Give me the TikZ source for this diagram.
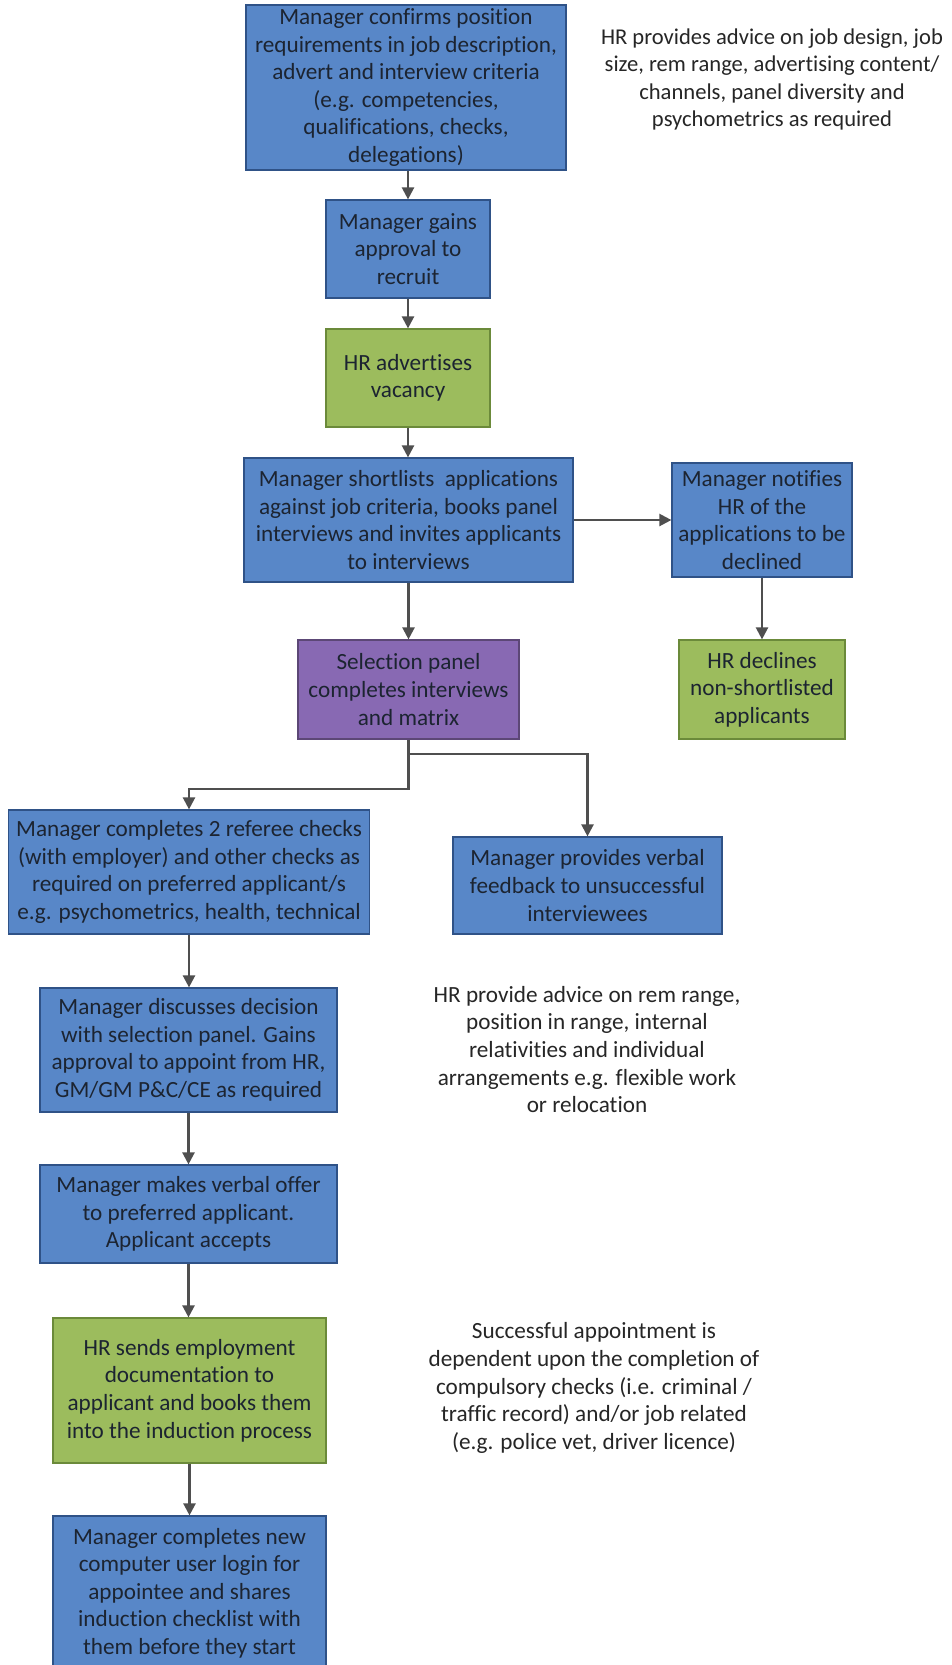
\documentclass[tikz,border=0pt]{standalone}
\usepackage{fontspec}
\setmainfont{Carlito}[Ligatures={NoCommon}]
\usetikzlibrary{arrows.meta,calc}
\definecolor{bluefill}{HTML}{5887C8}
\definecolor{blueline}{HTML}{2F5287}
\definecolor{greenfill}{HTML}{9CBC5D}
\definecolor{greenline}{HTML}{6B8A3A}
\definecolor{purplefill}{HTML}{8869B3}
\definecolor{purpleline}{HTML}{5C4776}
\definecolor{arrowgrey}{HTML}{4F4F4F}
\definecolor{textdark}{HTML}{1C2431}
\begin{document}
\begin{tikzpicture}[x=1pt,y=-1pt,
  box/.style={draw, line width=1.2pt, inner sep=0pt, align=center, text=textdark,
    font=\fontsize{23.2pt}{27.6pt}\selectfont},
  bluebox/.style={box, fill=bluefill, draw=blueline},
  greenbox/.style={box, fill=greenfill, draw=greenline},
  purplebox/.style={box, fill=purplefill, draw=purpleline},
  note/.style={align=center, text=black!85, inner sep=0pt,
    font=\fontsize{23.2pt}{27.6pt}\selectfont},
  arr/.style={draw=arrowgrey, line width=2.3pt, -{Triangle[width=12pt,length=12pt]}}
]
\fill[white] (0,0) rectangle (952,1665);
\useasboundingbox (0,0) rectangle (952,1665);

% main column
\node[bluebox, minimum width=320pt, minimum height=165pt] (b1) at (406,87.5)
  {Manager confirms position\\requirements in job description,\\advert and interview criteria\\(e.g. competencies,\\qualifications, checks,\\delegations)};
\node[bluebox, minimum width=164pt, minimum height=98pt] (b2) at (408,249)
  {Manager gains\\approval to\\recruit};
\node[greenbox, minimum width=164pt, minimum height=98pt] (b3) at (408,378)
  {HR advertises\\vacancy};
\node[bluebox, minimum width=329pt, minimum height=124pt] (b4) at (408.5,520)
  {Manager shortlists\ \ applications\\against job criteria, books panel\\interviews and invites applicants\\to interviews};
\node[bluebox, minimum width=180pt, minimum height=114pt] (b5) at (762,520)
  {Manager notifies\\HR of the\\applications to be\\declined};
\node[purplebox, minimum width=221pt, minimum height=99pt] (b6) at (408.5,689.5)
  {Selection panel\\completes interviews\\and matrix};
\node[greenbox, minimum width=166pt, minimum height=99pt] (b7) at (762,689.5)
  {HR declines\\non-shortlisted\\applicants};
\node[bluebox, minimum width=361pt, minimum height=124pt] (b8) at (189,872)
  {Manager completes 2 referee checks\\(with employer) and other checks as\\required on preferred applicant/s\\e.g. psychometrics, health, technical};
\node[bluebox, minimum width=269pt, minimum height=97pt] (b9) at (587.5,885.5)
  {Manager provides verbal\\feedback to unsuccessful\\interviewees};
\node[bluebox, minimum width=297pt, minimum height=124pt] (b10) at (188.5,1050)
  {Manager discusses decision\\with selection panel. Gains\\approval to appoint from HR,\\GM/GM P\&C/CE as required};
\node[bluebox, minimum width=297pt, minimum height=98pt] (b11) at (188.5,1214)
  {Manager makes verbal offer\\to preferred applicant.\\Applicant accepts};
\node[greenbox, minimum width=273pt, minimum height=145pt] (b12) at (189.5,1390.5)
  {HR sends employment\\documentation to\\applicant and books them\\into the induction process};
\node[bluebox, minimum width=273pt, minimum height=154pt] (b13) at (189.5,1593)
  {Manager completes new\\computer user login for\\appointee and shares\\induction checklist with\\them before they start};

% notes
\node[note, font=\fontsize{22.6pt}{27.6pt}\selectfont] (n1) at (772,79.5)
  {HR provides advice on job design, job\\size, rem range, advertising content/\\channels, panel diversity and\\psychometrics as required};
\node[note] (n2) at (587,1049.5)
  {HR provide advice on rem range,\\position in range, internal\\relativities and individual\\arrangements e.g. flexible work\\or relocation};
\node[note] (n3) at (594,1388)
  {Successful appointment is\\dependent upon the completion of\\compulsory checks (i.e. criminal /\\traffic record) and/or job related\\(e.g. police vet, driver licence)};

% connectors
\coordinate (s1) at (408.5,789);
\coordinate (s2) at (408.5,754);
\draw[arr] (b1.south -| b2.north) -- (b2.north);
\draw[arr] (b2.south) -- (b3.north);
\draw[arr] (b3.south) -- (b4.north -| b3.south);
\draw[arr] (b4.east) -- (b5.west);
\draw[arr] (b5.south) -- (b7.north);
\draw[arr] (b4.south) -- (b6.north);
\draw[arr] (b6.south) -- (s1) -| (b8.north);
\draw[arr] (s2) -| (b9.north);
\draw[arr] (b8.south) -- (b10.north -| b8.south);
\draw[arr] (b10.south) -- (b11.north);
\draw[arr] (b11.south) -- (b12.north -| b11.south);
\draw[arr] (b12.south) -- (b13.north);
\end{tikzpicture}
\end{document}
